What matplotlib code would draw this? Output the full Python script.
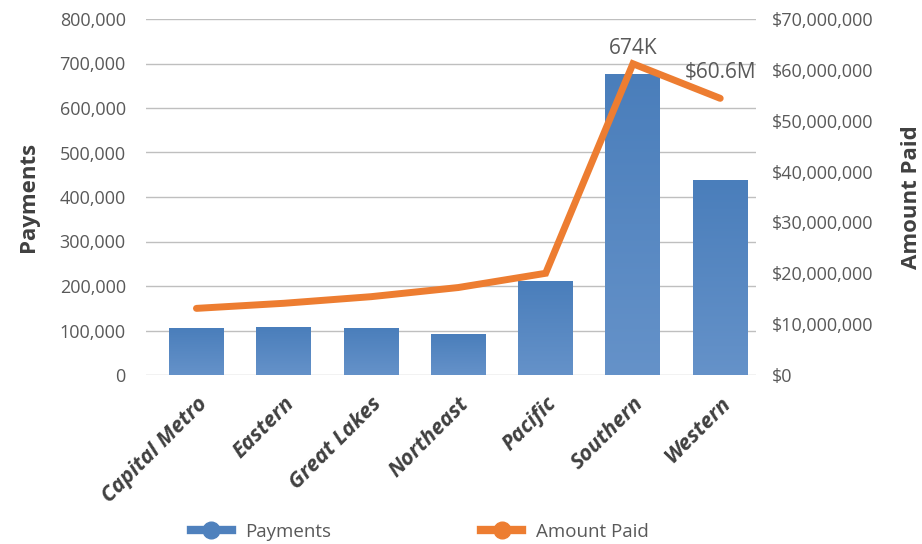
import matplotlib
matplotlib.use("Agg")
import matplotlib.pyplot as plt
import numpy as np
from matplotlib.lines import Line2D
from matplotlib.ticker import FuncFormatter
from matplotlib.colors import LinearSegmentedColormap

categories = ["Capital Metro", "Eastern", "Great Lakes", "Northeast", "Pacific", "Southern", "Western"]
payments = [105500, 107800, 106300, 92100, 211000, 676000, 438000]
amount_paid = [13.1e6, 14.1e6, 15.4e6, 17.2e6, 20.0e6, 61.2e6, 54.4e6]
payments_label = "674K"
amount_label = "$60.6M"

plt.rcParams['font.family'] = ['Open Sans', 'DejaVu Sans']

TXT = "#595959"
DARK = "#404040"
BLUE = "#4F81BD"
ORANGE = "#ED7D31"

fig = plt.figure(figsize=(9.22, 5.44), dpi=100)
ax = fig.add_axes([146/922, (544-375)/544, (756-146)/922, (375-19)/544])
ax2 = ax.twinx()

x = np.arange(len(categories))
bars = ax.bar(x, payments, width=0.63, color=BLUE, zorder=2)
grad = np.linspace(0, 1, 256).reshape(-1, 1)
cmap = LinearSegmentedColormap.from_list("g", ["#4A7EBB", "#6592C9"])
for b in bars:
    x0, w, h = b.get_x(), b.get_width(), b.get_height()
    im = ax.imshow(grad, extent=[x0, x0 + w, 0, h], aspect='auto', cmap=cmap, zorder=3)
    im.set_clip_path(b)
ax.set_xlim(-0.578, len(categories) - 0.59)
ax.set_ylim(0, 800000)
ax.set_yticks(np.arange(0, 800001, 100000))
ax.yaxis.set_major_formatter(FuncFormatter(lambda v, p: f"{int(v):,}"))
ax.grid(axis='y', color="#BFBFBF", lw=1, zorder=0)
ax.set_axisbelow(True)
for s in ax.spines.values():
    s.set_visible(False)
for s in ax2.spines.values():
    s.set_visible(False)
ax.tick_params(axis='y', length=0, pad=14.5, labelsize=13, labelcolor=TXT)
ax.tick_params(axis='x', length=0, pad=13)
ax.set_xticks(x)
ax.set_xticklabels(categories, rotation=45, ha='right', rotation_mode='anchor',
                   fontsize=15.5, fontweight='bold', fontstyle='italic', color=DARK)
ax.set_ylabel("Payments", fontsize=16, fontweight='bold', color=DARK, labelpad=15)

ax2.plot(x, amount_paid, color=ORANGE, lw=5, solid_capstyle='round', solid_joinstyle='miter', zorder=5)
ax2.set_ylim(0, 70e6)
ax2.set_yticks(np.arange(0, 70e6 + 1, 10e6))
ax2.yaxis.set_major_formatter(FuncFormatter(lambda v, p: f"${int(v):,}"))
ax2.tick_params(axis='y', length=0, pad=11.5, labelsize=13, labelcolor=TXT)
ax2.set_ylabel("Amount Paid", fontsize=16, fontweight='bold', color=DARK, labelpad=20)

ax.annotate(payments_label, (5, payments[5]), xytext=(0, 11), textcoords='offset points',
            ha='center', va='bottom', fontsize=15, color=TXT)
ax2.annotate(amount_label, (6, amount_paid[6]), xytext=(0, 11), textcoords='offset points',
             ha='center', va='bottom', fontsize=15, color=TXT)

handles = [Line2D([], [], color=BLUE, lw=6, marker='o', markersize=12),
           Line2D([], [], color=ORANGE, lw=6, marker='o', markersize=12)]
fig.legend(handles, ["Payments", "Amount Paid"], loc='center', bbox_to_anchor=(0.455, 0.022),
           ncol=2, frameon=False, fontsize=13.5, labelcolor=TXT, columnspacing=8.0,
           handlelength=2.2, handletextpad=0.7)

fig.savefig("out.png", dpi=100)
